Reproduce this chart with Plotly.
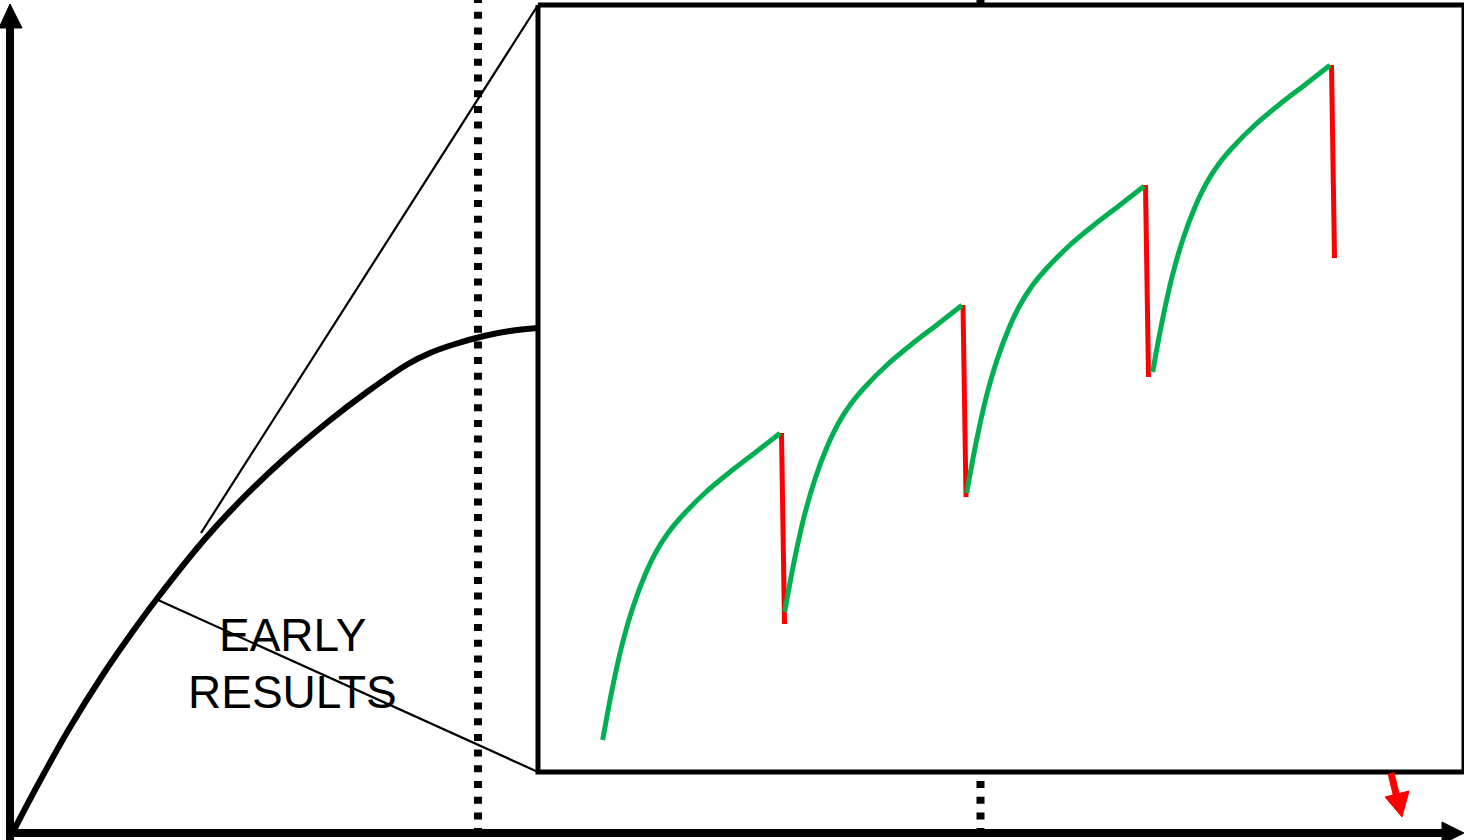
import plotly.graph_objects as go

# ---- data (diagram coordinates, y grows downward) ----
growth_x = [14, 35, 69, 104, 131, 156, 204, 242, 284, 329, 367, 408, 430, 452, 484, 510, 538]
growth_y = [830, 790, 729, 673, 634, 600, 540, 499, 459, 421, 392, 364, 353, 345, 336, 331, 328]

zoom_top_x = [201, 538]
zoom_top_y = [533, 5]
zoom_bot_x = [158, 538]
zoom_bot_y = [600, 772]

inset_x = [538, 1464, 1464, 538, 538]
inset_y = [5, 5, 772, 772, 5]

marker_a_x = [478, 478]
marker_a_y = [-4, 832]
marker_b_x = [980.5, 980.5]
marker_b_y = [-4, 832]

seg1_x = [602.7, 612, 622, 633, 645, 656, 668, 683, 706, 730, 756, 780]
seg1_y = [740, 690, 645, 607, 575, 552, 533, 515, 492, 472, 452, 433.3]
seg2_x = [784.7, 794, 804, 815, 827, 838, 850, 865, 888, 912, 938, 962]
seg2_y = [612, 562, 517, 479, 447, 424, 405, 387, 364, 344, 324, 305.3]
seg3_x = [966.7, 976, 986, 997, 1009, 1020, 1032, 1047, 1070, 1094, 1120, 1144]
seg3_y = [493, 443, 398, 360, 328, 305, 286, 268, 245, 225, 205, 186.3]
seg4_x = [1152.7, 1162, 1172, 1183, 1195, 1206, 1218, 1233, 1256, 1280, 1306, 1330]
seg4_y = [372, 322, 277, 239, 207, 184, 165, 147, 124, 104, 84, 65.3]

drop_x = [[781.5, 784.5], [963, 966], [1145.5, 1148.5], [1331.5, 1334.5]]
drop_y = [[433, 624], [305, 497], [185, 377], [65, 258]]

yaxis_x = [10, 10]
yaxis_y = [840, 26]
yhead_x = [-1, 10, 22, -1]
yhead_y = [28, 4, 28, 28]
xaxis_x = [6, 1444]
xaxis_y = [833, 833]
xhead_x = [1442, 1464, 1442, 1442]
xhead_y = [822, 833, 844, 822]

red_arrow_x = [1391, 1397]
red_arrow_y = [773, 798]
red_head_x = [1385, 1409, 1402, 1385]
red_head_y = [797, 791, 817, 797]

label_lines = ["EARLY", "RESULTS"]
label_x = 292
label_y = [635, 692]

GREEN = "#00b050"
RED = "#ff0000"

fig = go.Figure()

def line(x, y, color="black", width=2, dash=None, shape="linear"):
    fig.add_trace(go.Scatter(x=x, y=y, mode="lines",
                             line=dict(color=color, width=width, dash=dash, shape=shape),
                             hoverinfo="skip", showlegend=False))

# dotted marker lines
line(marker_a_x, marker_a_y, width=8, dash="7px,8.7px")
line(marker_b_x, marker_b_y, width=8, dash="7px,8.7px")

# inset box (white fill covers the second marker line)
fig.add_trace(go.Scatter(x=inset_x, y=inset_y, mode="lines", fill="toself",
                         fillcolor="white", line=dict(color="black", width=5),
                         hoverinfo="skip", showlegend=False))

# zoom connectors
line(zoom_top_x, zoom_top_y, width=2.2)
line(zoom_bot_x, zoom_bot_y, width=2.2)

# main growth curve
line(growth_x, growth_y, width=6, shape="spline")

# axes
line(yaxis_x, yaxis_y, width=8)
line(xaxis_x, xaxis_y, width=8)
for hx, hy, col in [(yhead_x, yhead_y, "black"), (xhead_x, xhead_y, "black"),
                    (red_head_x, red_head_y, RED)]:
    fig.add_trace(go.Scatter(x=hx, y=hy, mode="lines", fill="toself", fillcolor=col,
                             line=dict(color=col, width=1), hoverinfo="skip",
                             showlegend=False))
line(red_arrow_x, red_arrow_y, color=RED, width=7)

# sawtooth
for dx, dy in zip(drop_x, drop_y):
    line(dx, dy, color=RED, width=5)
for sx, sy in [(seg1_x, seg1_y), (seg2_x, seg2_y), (seg3_x, seg3_y), (seg4_x, seg4_y)]:
    line(sx, sy, color=GREEN, width=5, shape="spline")

for txt, ty in zip(label_lines, label_y):
    fig.add_annotation(x=label_x, y=ty, text=txt, showarrow=False,
                       xanchor="center", yanchor="middle",
                       font=dict(family="Liberation Sans, Arial, sans-serif",
                                 size=46, color="black"))

fig.update_layout(
    width=1464, height=840,
    margin=dict(l=0, r=0, t=0, b=0),
    paper_bgcolor="white", plot_bgcolor="white",
    xaxis=dict(range=[0, 1464], visible=False, fixedrange=True),
    yaxis=dict(range=[840, 0], visible=False, fixedrange=True),
    showlegend=False,
)

fig.write_html("out.html",
               config={"displayModeBar": False, "staticPlot": True},
               post_script="document.body.style.margin='0px';"
                           "document.body.style.overflow='hidden';")
